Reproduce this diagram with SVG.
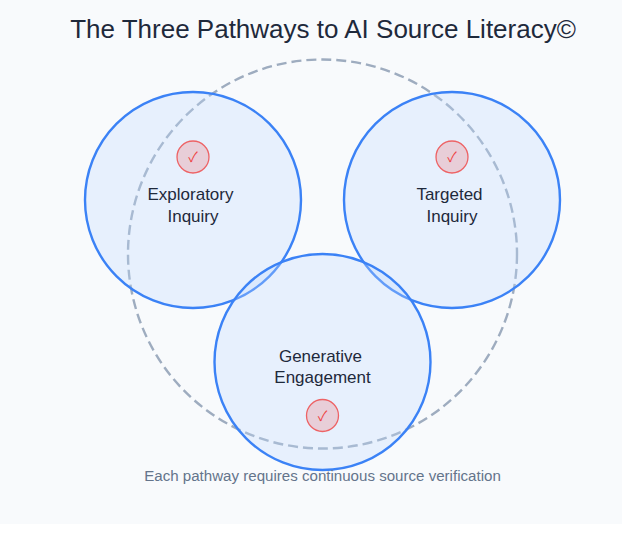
<svg xmlns="http://www.w3.org/2000/svg" width="622" height="535" viewBox="0 0 622 535">
<style>
text{font-family:"Liberation Sans",Arial,sans-serif;text-anchor:middle}
.p{fill:#bfdbfe;fill-opacity:.3;stroke:#3b82f6;stroke-width:2.4}
.c{fill:#ef4444;fill-opacity:.2;stroke:#ef4444;stroke-opacity:.8;stroke-width:1.3}
.k{font-size:14px;fill:#ef4444;font-family:"Noto Sans CJK SC","Noto Sans",sans-serif}
.l{font-size:17px;fill:#1e293b}
</style>
<rect width="622" height="524" fill="#f8fafc"/>
<text x="323" y="38" font-size="26" fill="#1e293b">The Three Pathways to AI Source Literacy©</text>
<g id="connectors"><circle cx="322.5" cy="254" r="194.5" fill="none" stroke="#94a3b8" stroke-width="2.4" stroke-opacity=".9" stroke-dasharray="10 5"/></g>
<g id="exploratory"><circle class="p" cx="193" cy="200" r="108"/><circle class="c" cx="193" cy="157" r="16"/><text class="k" x="193" y="162">✓</text><text class="l" x="190.5" y="200">Exploratory</text><text class="l" x="193" y="222">Inquiry</text></g>
<g id="targeted"><circle class="p" cx="452" cy="200" r="108"/><circle class="c" cx="452" cy="157" r="16"/><text class="k" x="452" y="162">✓</text><text class="l" x="449.5" y="200">Targeted</text><text class="l" x="452" y="222">Inquiry</text></g>
<g id="generative"><circle class="p" cx="322.5" cy="362" r="108"/><circle class="c" cx="322.5" cy="415.5" r="16"/><text class="k" x="322.5" y="420.5">✓</text><text class="l" x="320.5" y="362">Generative</text><text class="l" x="322.5" y="383">Engagement</text></g>
<text x="322.5" y="481" font-size="15.1" fill="#64748b">Each pathway requires continuous source verification</text>
</svg>
